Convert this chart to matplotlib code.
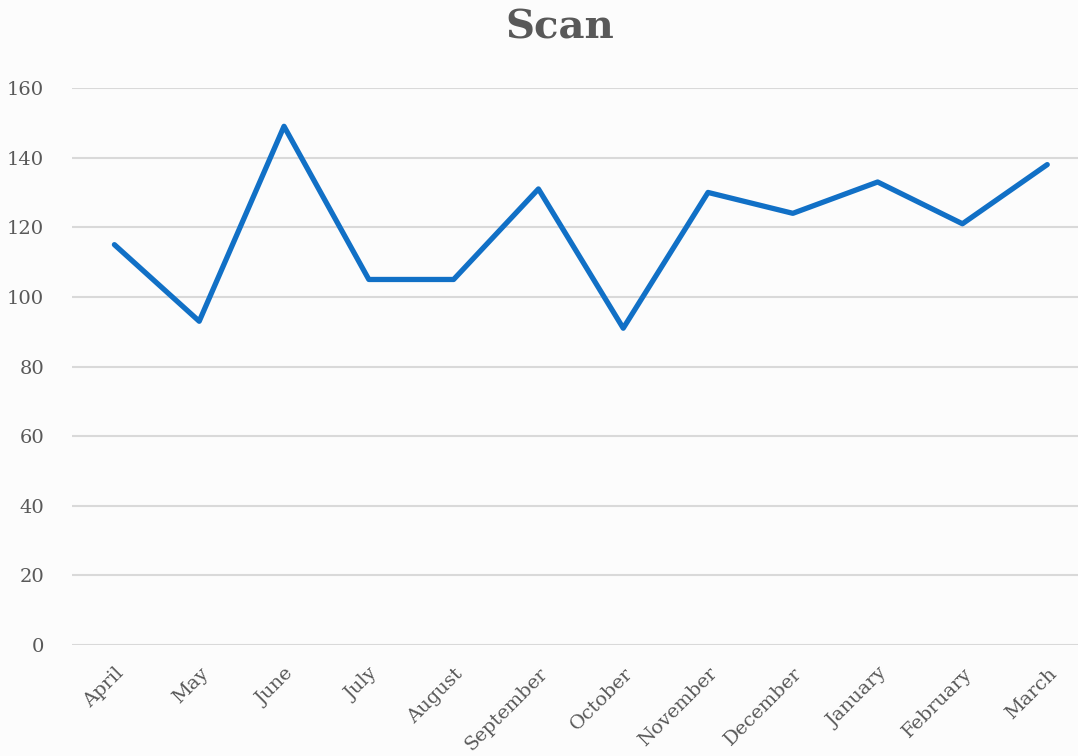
import matplotlib
matplotlib.use('Agg')
import matplotlib.pyplot as plt
import numpy as np

months = ['April', 'May', 'June', 'July', 'August', 'September',
          'October', 'November', 'December', 'January', 'February', 'March']
scan = [115, 93, 149, 105, 105, 131, 91, 130, 124, 133, 121, 138]
yticks = [0, 20, 40, 60, 80, 100, 120, 140, 160]

plt.rcParams['font.family'] = ['DejaVu Serif']

fig = plt.figure(figsize=(10.78, 7.56), dpi=100)
fig.patch.set_facecolor('#fcfcfc')
ax = fig.add_axes([0.0668, 0.1468, 0.944, 0.7368])
ax.set_facecolor('none')

x = np.arange(len(months))
ax.plot(x, scan, color='#1170c6', linewidth=3.8,
        solid_joinstyle='round', solid_capstyle='round')

ax.set_xlim(-0.5, len(months) - 0.5)
ax.set_ylim(0, 160)
ax.set_yticks(yticks)
ax.set_xticks(x)
ax.set_xticklabels(months, rotation=45, ha='right', rotation_mode='anchor')
ax.grid(axis='y', color='#d9d9d9', linewidth=1.5)
ax.set_axisbelow(True)
for s in ax.spines.values():
    s.set_visible(False)
ax.tick_params(length=0, labelsize=14, colors='#595959')
ax.tick_params(axis='y', pad=20)
ax.tick_params(axis='x', pad=14)

fig.text(0.519, 0.963, 'Scan', ha='center', va='center',
         fontsize=29, fontweight='bold', color='#595959')

fig.savefig('out.png', dpi=100)
